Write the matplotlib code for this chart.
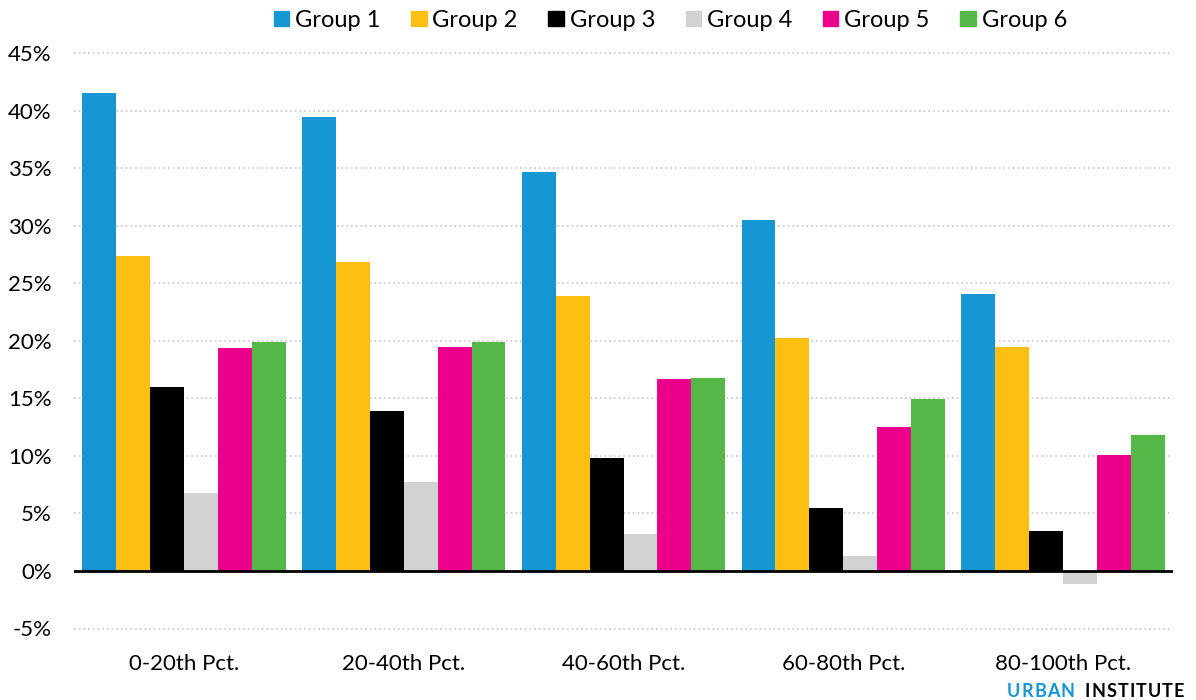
import numpy as np
import matplotlib
matplotlib.use("Agg")
import matplotlib.pyplot as plt
from matplotlib.patches import Patch
from matplotlib.ticker import FuncFormatter

plt.rcParams['font.family'] = ['Lato', 'DejaVu Sans']

categories = ["0-20th Pct.", "20-40th Pct.", "40-60th Pct.", "60-80th Pct.", "80-100th Pct."]
groups = ["Group 1", "Group 2", "Group 3", "Group 4", "Group 5", "Group 6"]
group1 = [41.5, 39.4, 34.7, 30.5, 24.1]
group2 = [27.4, 26.8, 23.9, 20.2, 19.5]
group3 = [16.0, 13.9, 9.8, 5.5, 3.5]
group4 = [6.8, 7.7, 3.2, 1.3, -1.1]
group5 = [19.4, 19.5, 16.7, 12.5, 10.1]
group6 = [19.9, 19.9, 16.8, 14.9, 11.8]
yticks = [-5, 0, 5, 10, 15, 20, 25, 30, 35, 40, 45]

series = [group1, group2, group3, group4, group5, group6]
colors = ["#1696d2", "#fdbf11", "#000000", "#d2d2d2", "#ec008b", "#55b748"]

W, H = 1196, 700
fig = plt.figure(figsize=(W / 100, H / 100), dpi=100)
# axes spans x 74..1173 px, y (45%) 53 .. (-5%) 628.5 px
y_top, y_bot = 53.0, 628.5
ax = fig.add_axes([74 / W, 1 - y_bot / H, 1099 / W, (y_bot - y_top) / H])

x = np.arange(len(categories))
n = len(series)
width = 0.926 / n
for i, (vals, col) in enumerate(zip(series, colors)):
    offs = (i - (n - 1) / 2) * width
    ax.bar(x + offs, vals, width=width, color=col, linewidth=0, zorder=3)

ax.set_xlim(-0.5, len(categories) - 0.5)
ax.set_ylim(-5, 45)
ax.set_yticks(yticks)
ax.yaxis.set_major_formatter(FuncFormatter(lambda v, p: f"{v:.0f}%"))
ax.set_xticks(x)
ax.set_xticklabels(categories)
ax.tick_params(axis='both', length=0, labelsize=16, colors='#000000')
ax.tick_params(axis='x', pad=18)
ax.tick_params(axis='y', pad=16)

for s in ax.spines.values():
    s.set_visible(False)

for t in yticks:
    if t != 0:
        ax.axhline(t, color='#cfcfcf', linewidth=1.3, linestyle=(0, (1, 1.6)),
                   zorder=1, clip_on=False)
ax.axhline(0, color='#000000', linewidth=2.0, zorder=4)

handles = [Patch(facecolor=c, edgecolor=c, label=g) for g, c in zip(groups, colors)]
fig.legend(handles=handles, loc='center', bbox_to_anchor=(0.5606, 0.971), ncol=6,
           frameon=False, fontsize=17, handlelength=0.65, handleheight=0.65,
           handletextpad=0.25, columnspacing=1.3, borderaxespad=0)

# letter-spaced "URBAN INSTITUTE" wordmark, each word fitted to a pixel span
renderer = fig.canvas.get_renderer()


def spaced_word(x0, x1, y_px, s, color, size=13):
    texts = [fig.text(0, 1 - y_px / H, ch, ha='left', va='baseline',
                      fontsize=size, fontweight='bold', color=color) for ch in s]
    widths = [t.get_window_extent(renderer=renderer).width for t in texts]
    gap = (x1 - x0 - sum(widths)) / max(len(s) - 1, 1)
    cur = x0
    for t, w in zip(texts, widths):
        t.set_x(cur / W)
        cur += w + gap


spaced_word(1007, 1075, 697, "URBAN", '#1696d2')
spaced_word(1085, 1184, 697, "INSTITUTE", '#000000')

fig.savefig("out.png", dpi=100, facecolor='white')
